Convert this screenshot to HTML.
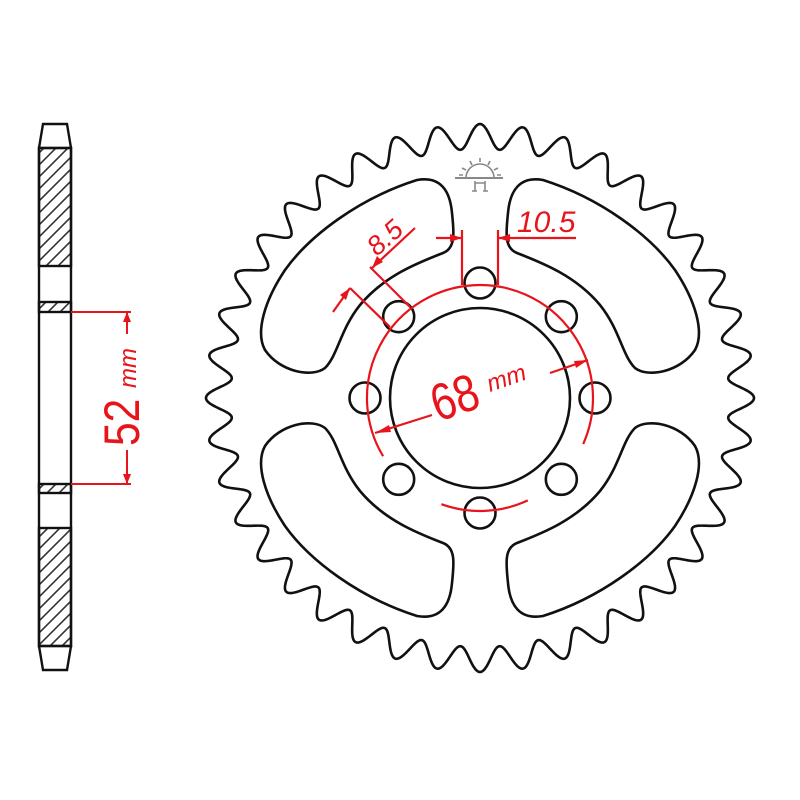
<!DOCTYPE html>
<html><head><meta charset="utf-8"><style>html,body{margin:0;padding:0;background:#fff}svg{display:block}</style></head>
<body>
<svg id="s" width="800" height="800" viewBox="0 0 800 800" xmlns="http://www.w3.org/2000/svg">
<defs>
<pattern id="h" patternUnits="userSpaceOnUse" width="12" height="12">
<path d="M-3,3 L3,-3 M0,12 L12,0 M9,15 L15,9" stroke="#333" stroke-width="1.6"/>
</pattern>
<path id="win" d="M417 180 C440 176,450 190,452 213 C454 232,456 248,443 253 C420 262,385 275,360 305 C340 330,338 355,325 368 C312 378,280 372,265 350 C255 332,265 300,285 270 C310 235,360 198,417 180 Z" fill="none" stroke="#111" stroke-width="2.6"/>
</defs>
<rect width="800" height="800" fill="#fff"/>
<g stroke="#111" stroke-width="2.4" fill="none">
<rect x="39" y="148" width="32" height="118" fill="url(#h)"/>
<rect x="39" y="528" width="32" height="118" fill="url(#h)"/>
<rect x="39" y="302" width="32" height="10" fill="url(#h)"/>
<rect x="39" y="484" width="32" height="9" fill="url(#h)"/>
<path d="M39 148 L43 124 L67 124 L71 148"/>
<path d="M39 646 L43 670 L67 670 L71 646"/>
<rect x="39" y="148" width="32" height="498"/>
</g>
<g stroke="#e8141c" stroke-width="2" fill="#e8141c">
<path d="M71 312 H131 M71 484 H131 M127 312 V334 M127 450 V484" fill="none"/>
<path d="M127 312 L123 322 L131 322Z M127 484 L123 474 L131 474Z" stroke="none"/>
</g>
<g fill="#e8141c" font-family="Liberation Sans, sans-serif">
<text transform="translate(139,446) rotate(-90) scale(0.85,1)" font-size="50">52</text>
<text transform="translate(136,388) rotate(-90)" font-size="24" font-style="italic">mm</text>
</g>
<path id="teeth" fill="none" stroke="#111" stroke-width="2.6"/>
<use href="#win"/>
<use href="#win" transform="translate(960,0) scale(-1,1)"/>
<use href="#win" transform="translate(0,796) scale(1,-1)"/>
<use href="#win" transform="translate(960,796) scale(-1,-1)"/>
<circle cx="480" cy="398" r="90" fill="none" stroke="#111" stroke-width="2.6"/>
<g id="holes" fill="none" stroke="#111" stroke-width="2.6"></g>
<g stroke="#888" stroke-width="1.6" fill="none">
<path d="M466 178 A14 14 0 0 1 494 178"/>
<path d="M455 178 H503" stroke-width="2"/>
<path d="M480 158 V162 M470 161 L472 165 M490 161 L488 165 M462 168 L466 170 M498 168 L494 170 M459 175 H463 M497 175 H501"/>
<path d="M475 181 V191 M485 181 V191 M475 183 H485 M472 191 H477 M483 191 H488"/>
</g>
<g stroke="#e8141c" stroke-width="2.2" fill="none">
<path d="M383.1 456.2 A113 113 0 1 1 583.2 444"/>
<path d="M441.4 504.2 A113 113 0 0 0 527.8 500.4"/>
<path d="M375 433 L432 415 M550 373 L588 360"/>
<path d="M462 230 V285 M498 230 V285 M436 238 H462 M498 238 H576"/>
<path d="M370 267 L410 307 M350 288 L390 327 M415 228 L372 268 M333 312 L350 288"/>
</g>
<g fill="#e8141c">
<path d="M375 433 L389 425 L391 432Z M588 360 L574 361 L576 368Z"/>
<path d="M462 238 L450 234 L450 242Z M498 238 L510 234 L510 242Z"/>
<path d="M372 268 L377 256 L383 262Z M350 288 L340 295 L346 300Z"/>
</g>
<g fill="#e8141c" font-family="Liberation Sans, sans-serif">
<text transform="translate(438,422) rotate(-19) scale(0.82,1)" font-size="52">68</text>
<text transform="translate(490,392) rotate(-19)" font-size="24" font-style="italic">mm</text>
<text x="517" y="232" font-size="30" font-style="italic">10.5</text>
<text transform="translate(377,257) rotate(-42)" font-size="27" font-style="italic">8.5</text>
</g>
</svg>
<script>
(function(){
var cx=480,cy=398,rr=249,rt=274,n=40,d='';
for(var i=0;i<=2400;i++){
 var th=i/2400*2*Math.PI;
 var ph=th*n;
 var g=(1+Math.cos(ph))/2;
 var r=rr+(rt-rr)*g;
 var x=cx+r*Math.cos(th),y=cy+r*Math.sin(th);
 d+=(i?'L':'M')+x.toFixed(2)+' '+y.toFixed(2);
}
document.getElementById('teeth').setAttribute('d',d+'Z');
var h=document.getElementById('holes'),ns='http://www.w3.org/2000/svg';
for(var k=0;k<8;k++){
 var a=k*Math.PI/4,c=document.createElementNS(ns,'circle');
 c.setAttribute('cx',(cx+115*Math.cos(a)).toFixed(2));
 c.setAttribute('cy',(cy+115*Math.sin(a)).toFixed(2));
 c.setAttribute('r','15.5');h.appendChild(c);
}
})();
</script>
</body></html>
